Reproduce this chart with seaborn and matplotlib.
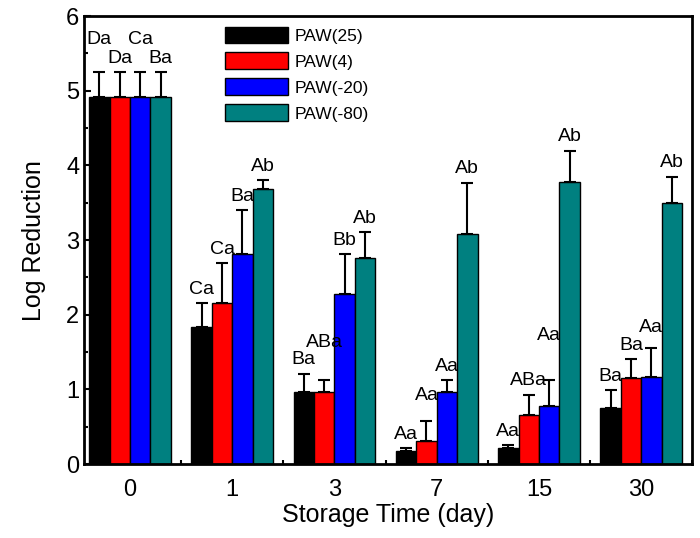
import numpy as np
import pandas as pd
import matplotlib
matplotlib.use("Agg")
import matplotlib.pyplot as plt
import seaborn as sns
from matplotlib.ticker import MultipleLocator

# ==========================================
# DATA
# ==========================================
days = ['0', '1', '3', '7', '15', '30']
series = ['PAW(25)', 'PAW(4)', 'PAW(-20)', 'PAW(-80)']
colors = ['#000000', '#FF0000', '#0000FF', '#008080']

paw25 = [4.92, 1.84, 0.96, 0.18, 0.22, 0.75]
paw4 = [4.92, 2.16, 0.96, 0.31, 0.66, 1.15]
paw20 = [4.92, 2.81, 2.28, 0.96, 0.78, 1.16]
paw80 = [4.92, 3.68, 2.76, 3.08, 3.78, 3.50]

err25 = [0.33, 0.32, 0.25, 0.03, 0.03, 0.24]
err4 = [0.33, 0.53, 0.17, 0.27, 0.27, 0.26]
err20 = [0.33, 0.59, 0.53, 0.16, 0.34, 0.39]
err80 = [0.33, 0.12, 0.35, 0.69, 0.42, 0.35]

lab25 = ['Da', 'Ca', 'Ba', 'Aa', 'Aa', 'Ba']
lab4 = ['Da', 'Ca', 'ABa', 'Aa', 'ABa', 'Ba']
lab20 = ['Ca', 'Ba', 'Bb', 'Aa', 'Aa', 'Aa']
lab80 = ['Ba', 'Ab', 'Ab', 'Ab', 'Ab', 'Ab']

values = [paw25, paw4, paw20, paw80]
errors = [err25, err4, err20, err80]
letters = [lab25, lab4, lab20, lab80]

rows = []
for s, vals in zip(series, values):
    for d, v in zip(days, vals):
        rows.append({'Day': d, 'Group': s, 'Value': v})
df = pd.DataFrame(rows)

# ==========================================
# PLOT
# ==========================================
sns.set_style("ticks")
plt.rcParams['font.family'] = ['Liberation Sans', 'DejaVu Sans']
plt.rcParams['axes.edgecolor'] = 'black'
plt.rcParams['xtick.color'] = 'black'
plt.rcParams['ytick.color'] = 'black'
plt.rcParams['axes.labelcolor'] = 'black'
plt.rcParams['text.color'] = 'black'

fig = plt.figure(figsize=(7.0, 5.38), dpi=100)
ax = fig.add_axes([0.12, 0.1375, 0.869, 0.8325])

sns.barplot(data=df, x='Day', y='Value', hue='Group', order=days,
            hue_order=series, palette=colors, errorbar=None, width=0.8,
            edgecolor='black', linewidth=1.0, saturation=1, ax=ax)

# bars are ordered by hue then by category
bars = ax.patches[:len(series) * len(days)]

# extra lift for labels that are staggered in the original
lift = {(0, 0): 0.25, (2, 0): 0.25, (1, 2): 0.32, (1, 3): 0.15,
        (2, 4): 0.42, (2, 5): 0.1}

for i in range(len(series)):
    for j in range(len(days)):
        b = bars[i * len(days) + j]
        xc = b.get_x() + b.get_width() / 2
        top = b.get_height()
        e = errors[i][j]
        ax.errorbar(xc, top, yerr=[[0], [e]], fmt='none', ecolor='black',
                    elinewidth=1.5, capsize=4.5, capthick=1.5, zorder=3)
        ax.text(xc, top + e + 0.07 + lift.get((i, j), 0), letters[i][j],
                ha='center', va='bottom', fontsize=14, color='black')

ax.set_xlim(-0.45, 5.45)
ax.set_ylim(0, 6)
ax.yaxis.set_major_locator(MultipleLocator(1))
ax.yaxis.set_minor_locator(MultipleLocator(0.5))
ax.set_xticks(np.arange(len(days)) + 0.5, minor=True)

ax.tick_params(axis='both', which='major', direction='in', length=5, width=1.5,
               labelsize=17, top=False, right=False)
ax.tick_params(axis='both', which='minor', direction='in', length=3, width=1.5,
               top=False, right=False)
ax.tick_params(axis='x', which='major', pad=11)

for sp in ax.spines.values():
    sp.set_linewidth(2)
    sp.set_visible(True)

ax.set_xlabel('Storage Time (day)', fontsize=18, labelpad=1)
ax.set_ylabel('Log Reduction', fontsize=18, labelpad=14)

ax.legend(loc='upper left', bbox_to_anchor=(0.215, 1.0), frameon=False,
          fontsize=12.5, handlelength=3.6, handleheight=1.1, labelspacing=0.5,
          handletextpad=0.4, borderaxespad=0.2)

fig.savefig('out.png', dpi=100)
